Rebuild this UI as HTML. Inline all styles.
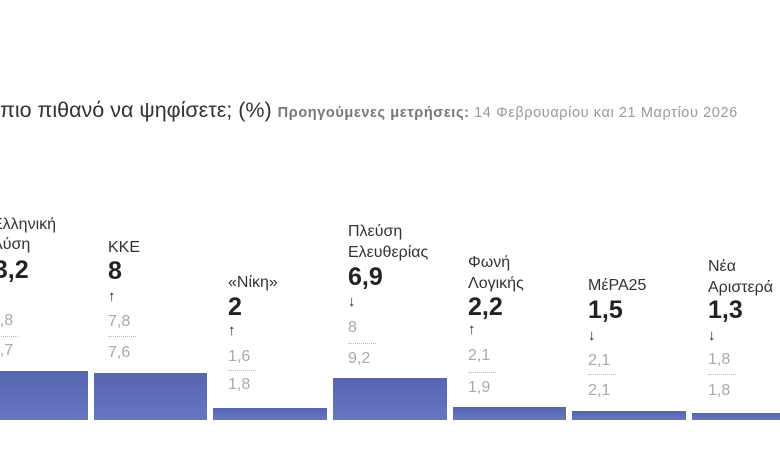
<!DOCTYPE html>
<html><head><meta charset="utf-8"><style>
body{margin:0;width:780px;height:470px;background:#fff;overflow:hidden;position:relative;font-family:"Liberation Sans","DejaVu Sans",sans-serif;}
.t{position:absolute;white-space:nowrap;line-height:1;}
.n{font-size:16px;color:#333;}
.v{font-size:25px;font-weight:bold;color:#222;}
.a{font-size:15px;font-weight:bold;color:#222;}
.p{font-size:16px;color:#aaa;}
.d{position:absolute;width:28px;border-top:1px dotted #bbb;}
.b{position:absolute;bottom:50px;background:linear-gradient(#5565b0,#6676c0);}
</style></head><body>
<div class="t" style="left:0;top:100px;font-size:21.5px;color:#333">πιο πιθανό να ψηφίσετε; (%) <span style="font-size:14.5px;letter-spacing:0.6px;color:#777;font-weight:bold">Προηγούμενες μετρήσεις:</span><span style="font-size:14.5px;letter-spacing:0.6px;color:#999"> 14 Φεβρουαρίου και 21 Μαρτίου 2026</span></div>

<div class="t n" style="left:-8px;top:217px">Ελληνική</div>
<div class="t n" style="left:-8px;top:237px">Λύση</div>
<div class="t v" style="left:-20px;top:258px">13,2</div>
<div class="t a" style="left:-8px;top:288px">↓</div>
<div class="t p" style="left:-18px;top:313px">13,8</div>
<div class="d" style="left:-10px;top:336px"></div>
<div class="t p" style="left:-18px;top:343px">12,7</div>
<div class="b" style="left:0;width:88px;height:49px"></div>

<div class="t n" style="left:108px;top:240px">ΚΚΕ</div>
<div class="t v" style="left:108px;top:259px">8</div>
<div class="t a" style="left:108px;top:289px">↑</div>
<div class="t p" style="left:108px;top:314px">7,8</div>
<div class="d" style="left:108px;top:336px"></div>
<div class="t p" style="left:108px;top:345px">7,6</div>
<div class="b" style="left:94px;width:113px;height:47px"></div>

<div class="t n" style="left:228px;top:275px">«Νίκη»</div>
<div class="t v" style="left:228px;top:295px">2</div>
<div class="t a" style="left:228px;top:323px">↑</div>
<div class="t p" style="left:228px;top:349px">1,6</div>
<div class="d" style="left:228px;top:370px"></div>
<div class="t p" style="left:228px;top:377px">1,8</div>
<div class="b" style="left:213px;width:114px;height:12px"></div>

<div class="t n" style="left:348px;top:224px">Πλεύση</div>
<div class="t n" style="left:348px;top:245px">Ελευθερίας</div>
<div class="t v" style="left:348px;top:265px">6,9</div>
<div class="t a" style="left:348px;top:294px">↓</div>
<div class="t p" style="left:348px;top:320px">8</div>
<div class="d" style="left:348px;top:343px"></div>
<div class="t p" style="left:348px;top:351px">9,2</div>
<div class="b" style="left:333px;width:114px;height:42px"></div>

<div class="t n" style="left:468px;top:255px">Φωνή</div>
<div class="t n" style="left:468px;top:276px">Λογικής</div>
<div class="t v" style="left:468px;top:295px">2,2</div>
<div class="t a" style="left:468px;top:322px">↑</div>
<div class="t p" style="left:468px;top:348px">2,1</div>
<div class="d" style="left:468px;top:372px"></div>
<div class="t p" style="left:468px;top:380px">1,9</div>
<div class="b" style="left:453px;width:113px;height:13px"></div>

<div class="t n" style="left:588px;top:278px">ΜέΡΑ25</div>
<div class="t v" style="left:588px;top:298px">1,5</div>
<div class="t a" style="left:588px;top:328px">↓</div>
<div class="t p" style="left:588px;top:353px">2,1</div>
<div class="d" style="left:588px;top:374px"></div>
<div class="t p" style="left:588px;top:383px">2,1</div>
<div class="b" style="left:572px;width:114px;height:9px"></div>

<div class="t n" style="left:708px;top:259px">Νέα</div>
<div class="t n" style="left:708px;top:280px">Αριστερά</div>
<div class="t v" style="left:708px;top:298px">1,3</div>
<div class="t a" style="left:708px;top:328px">↓</div>
<div class="t p" style="left:708px;top:352px">1,8</div>
<div class="d" style="left:708px;top:374px"></div>
<div class="t p" style="left:708px;top:383px">1,8</div>
<div class="b" style="left:692px;width:88px;height:7px"></div>
</body></html>
